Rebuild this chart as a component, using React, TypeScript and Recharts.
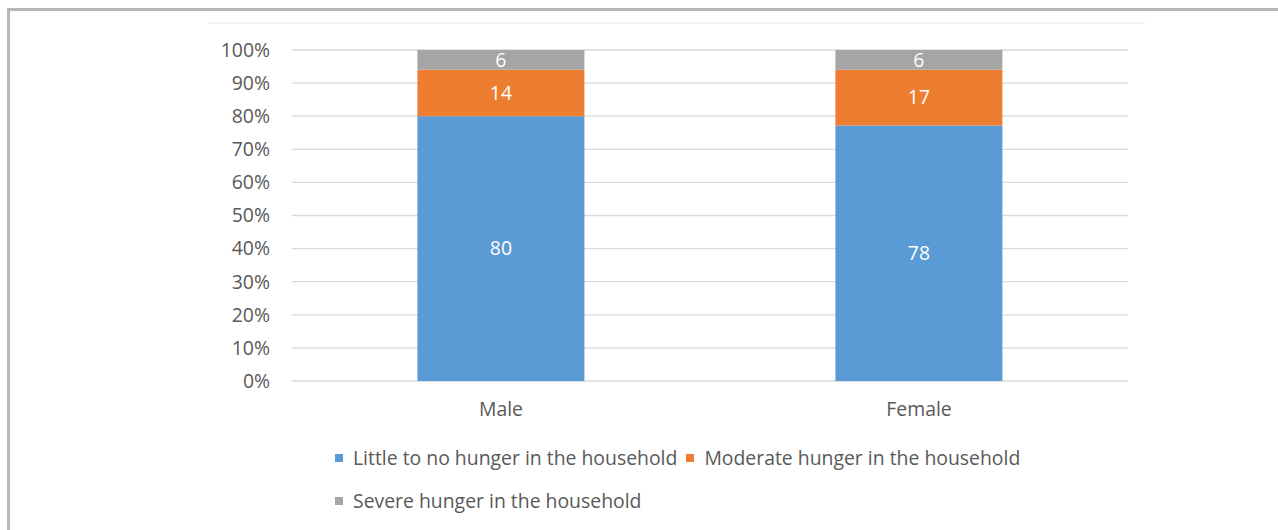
import React from 'react';
import { BarChart, Bar, XAxis, YAxis, CartesianGrid, LabelList } from 'recharts';

const categories = ['Male', 'Female'];
const littleHunger = [80, 78];
const moderateHunger = [14, 17];
const severeHunger = [6, 6];
const yTicks = [0, 0.1, 0.2, 0.3, 0.4, 0.5, 0.6, 0.7, 0.8, 0.9, 1];

const seriesNames = [
  'Little to no hunger in the household',
  'Moderate hunger in the household',
  'Severe hunger in the household',
];
const seriesKeys = ['little', 'moderate', 'severe'];
const seriesColors = ['#5B9BD5', '#ED7D31', '#A5A5A5'];

const data = categories.map((c, i) => ({
  name: c,
  little: littleHunger[i],
  moderate: moderateHunger[i],
  severe: severeHunger[i],
}));

const FONT = '"Open Sans", Lato, sans-serif';
const TEXT = '#595959';
const FS = 19.4;

export default function App() {
  return (
    <div
      style={{
        position: 'absolute',
        left: 0,
        top: 0,
        width: 1278,
        height: 530,
        background: '#fff',
        overflow: 'hidden',
        fontFamily: FONT,
      }}
    >
      <div style={{ position: 'absolute', left: 7, top: 8, right: 0, height: 3, background: '#B7B7BB' }} />
      <div style={{ position: 'absolute', left: 7, top: 8, bottom: 0, width: 3, background: '#B7B7BB' }} />
      <div style={{ position: 'absolute', left: 208, top: 22, width: 937, height: 2, background: '#F3F1F1' }} />
      <div style={{ position: 'absolute', left: 0, top: 0 }}>
        <BarChart
          width={1278}
          height={530}
          data={data}
          stackOffset="expand"
          barCategoryGap="30%"
          margin={{ top: 50, right: 150, bottom: 119, left: 0 }}
        >
          <CartesianGrid vertical={false} stroke="#D9D9D9" strokeWidth={1.3} />
          <XAxis
            dataKey="name"
            axisLine={false}
            tickLine={false}
            tickSize={0}
            tickMargin={21}
            height={30}
            tick={{ fill: TEXT, fontSize: FS, fontFamily: FONT }}
          />
          <YAxis
            width={292}
            domain={[0, 1]}
            ticks={yTicks}
            interval={0}
            axisLine={false}
            tickLine={false}
            tickSize={0}
            tickMargin={22}
            tickFormatter={(v: number) => `${Math.round(v * 100)}%`}
            tick={{ fill: TEXT, fontSize: FS, fontFamily: FONT }}
          />
          {seriesKeys.map((k, i) => (
            <Bar key={k} dataKey={k} stackId="a" fill={seriesColors[i]} isAnimationActive={false}>
              <LabelList
                dataKey={k}
                position="center"
                fill="#FFFFFF"
                style={{ fontSize: FS, fontFamily: FONT }}
              />
            </Bar>
          ))}
        </BarChart>
      </div>
      <div
        style={{
          position: 'absolute',
          left: 335,
          top: 444,
          width: 740,
          display: 'flex',
          flexWrap: 'wrap',
          columnGap: 9,
          rowGap: 16,
          color: TEXT,
          fontSize: FS,
          lineHeight: '27px',
        }}
      >
        {seriesNames.map((n, i) => (
          <div key={n} style={{ display: 'flex', alignItems: 'center', whiteSpace: 'nowrap' }}>
            <span
              style={{
                display: 'inline-block',
                width: 8,
                height: 8,
                background: seriesColors[i],
                marginRight: 10,
              }}
            />
            <span>{n}</span>
          </div>
        ))}
      </div>
    </div>
  );
}
